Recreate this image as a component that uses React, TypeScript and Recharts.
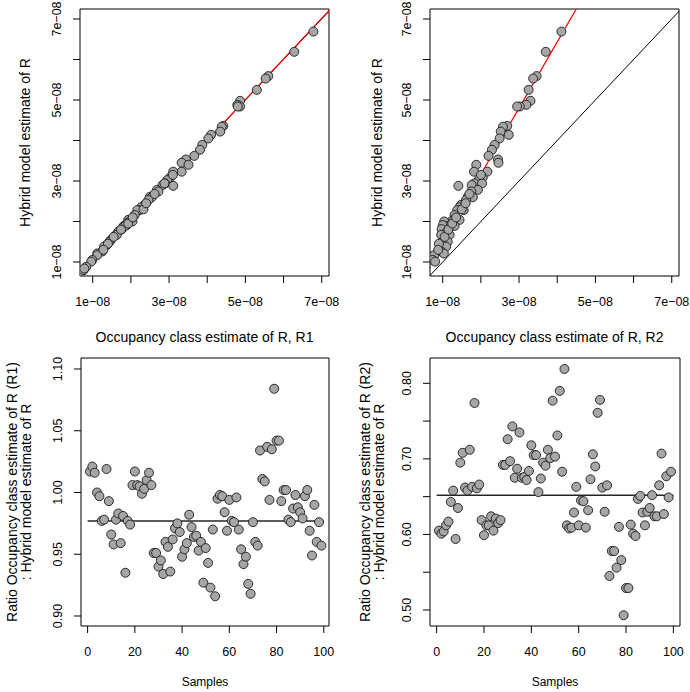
import React from "react";
import { ScatterChart, Scatter, XAxis, YAxis, ReferenceLine, ReferenceArea } from "recharts";

const FONT = "'Liberation Sans', Arial, Helvetica, sans-serif";

// estimates of R, in units of 1e-08 (same samples, three methods)
const hybrid = [6.69, 6.19, 5.59, 5.53, 5.25, 4.98, 4.88, 4.84, 4.84, 4.36, 4.34, 4.22, 4.14, 4.05, 3.89, 3.77, 3.62, 3.53, 3.45, 3.4, 3.23, 3.23, 3.09, 3.02, 2.94, 2.9, 2.94, 2.88, 2.78, 2.74, 2.61, 2.6, 2.53, 2.41, 2.35, 2.28, 2.28, 2.16, 2.04, 2.04, 2.0, 1.95, 2.0, 1.89, 1.91, 1.81, 1.87, 1.89, 1.75, 1.67, 1.67, 1.54, 1.5, 1.42, 1.38, 1.26, 1.21, 1.17, 1.05, 1.01, 0.76, 0.8, 0.88, 0.84, 1.62, 1.8, 1.95, 1.45, 2.1, 2.3, 2.45, 1.3, 2.68, 3.15];
const occR1 = [6.78, 6.28, 5.6, 5.53, 5.3, 4.86, 4.79, 4.86, 4.8, 4.42, 4.38, 4.34, 4.1, 4.03, 3.87, 3.81, 3.66, 3.44, 3.33, 3.51, 3.33, 3.11, 3.03, 2.95, 2.9, 2.83, 2.88, 3.11, 2.68, 2.72, 2.5, 2.55, 2.46, 2.35, 2.27, 2.22, 2.17, 2.1, 1.93, 2.02, 1.96, 1.9, 2.04, 1.82, 1.89, 1.76, 1.8, 1.85, 1.67, 1.61, 1.63, 1.47, 1.44, 1.37, 1.3, 1.25, 1.12, 1.12, 0.99, 0.96, 0.71, 0.76, 0.83, 0.78, 1.55, 1.74, 1.93, 1.4, 2.05, 2.33, 2.4, 1.28, 2.62, 3.1];
const occR2 = [4.11, 3.7, 3.46, 3.37, 3.25, 3.3, 3.19, 3.02, 2.95, 2.69, 2.58, 2.52, 2.73, 2.49, 2.36, 2.29, 2.2, 2.45, 2.46, 1.88, 1.82, 2.17, 2.05, 1.94, 1.83, 1.76, 2.03, 1.41, 1.92, 1.75, 1.66, 1.79, 1.61, 1.48, 1.44, 1.55, 1.38, 1.31, 1.29, 1.44, 1.22, 1.13, 1.04, 1.09, 1.0, 0.97, 1.2, 1.31, 1.11, 0.96, 1.18, 1.04, 1.13, 1.0, 1.09, 0.96, 1.03, 0.78, 0.74, 0.8, 0.48, 0.5, 0.55, 0.52, 1.05, 1.15, 1.25, 0.9, 1.35, 1.5, 1.6, 0.88, 1.7, 2.0];

// ratios per sample, in sample order
const ratioR1 = [1.017, 1.021, 1.016, 1.0, 0.997, 0.977, 0.978, 1.019, 0.993, 0.966, 0.958, 0.978, 0.983, 0.959, 0.981, 0.935, 0.977, 0.974, 1.006, 1.017, 1.006, 1.005, 0.999, 1.003, 1.01, 1.016, 1.006, 0.951, 0.951, 0.94, 0.945, 0.934, 0.96, 0.956, 0.936, 0.962, 0.971, 0.975, 0.968, 0.948, 0.954, 0.959, 0.982, 0.972, 0.964, 0.965, 0.953, 0.96, 0.927, 0.955, 0.943, 0.923, 0.97, 0.916, 0.995, 0.998, 0.997, 0.984, 0.969, 0.994, 0.977, 0.976, 0.996, 0.97, 0.954, 0.942, 0.948, 0.926, 0.918, 0.976, 0.96, 0.957, 1.034, 1.011, 1.009, 1.037, 0.994, 1.035, 1.084, 1.042, 1.042, 0.993, 1.002, 1.002, 0.978, 0.976, 0.987, 0.998, 0.988, 0.984, 0.979, 0.997, 1.002, 0.969, 0.949, 0.99, 0.96, 0.976, 0.957];
const ratioR2 = [0.605, 0.601, 0.604, 0.612, 0.617, 0.643, 0.658, 0.594, 0.635, 0.695, 0.708, 0.662, 0.658, 0.712, 0.663, 0.774, 0.661, 0.666, 0.619, 0.599, 0.612, 0.612, 0.624, 0.605, 0.621, 0.615, 0.619, 0.692, 0.692, 0.726, 0.697, 0.743, 0.675, 0.687, 0.735, 0.675, 0.676, 0.672, 0.684, 0.718, 0.705, 0.705, 0.656, 0.674, 0.695, 0.691, 0.712, 0.701, 0.777, 0.703, 0.731, 0.79, 0.683, 0.819, 0.612, 0.608, 0.609, 0.629, 0.663, 0.612, 0.645, 0.644, 0.609, 0.632, 0.673, 0.706, 0.69, 0.761, 0.778, 0.662, 0.63, 0.665, 0.545, 0.578, 0.578, 0.556, 0.61, 0.566, 0.493, 0.529, 0.529, 0.613, 0.601, 0.598, 0.647, 0.651, 0.629, 0.612, 0.63, 0.635, 0.652, 0.624, 0.624, 0.665, 0.707, 0.627, 0.677, 0.649, 0.683];

const MEAN_R1 = 0.977;
const MEAN_R2 = 0.652;
const FIT_R1 = { a: -0.01, b: 1.004 };
const FIT_R2 = { a: -0.103, b: 1.634 };

const e08Ticks = [1, 2, 3, 4, 5, 6, 7];
const sampleTicks = [0, 20, 40, 60, 80, 100];
const ratio1Ticks = [0.9, 0.95, 1.0, 1.05, 1.1];
const ratio2Ticks = [0.5, 0.55, 0.6, 0.65, 0.7, 0.75, 0.8];

const W = 345;
const H = 346;
const TICK_FS = 12.5;

const fmtE08 = (v: number) => (v % 2 === 1 ? `${v}e\u221208` : "");
const fmtInt = (v: number) => `${v}`;
const fmt2 = (v: number) => v.toFixed(2);
const fmt2Even = (v: number) => (Math.round(v * 100) % 10 === 0 ? v.toFixed(2) : "");

function Dot(props: any) {
  const { cx, cy } = props;
  if (cx == null || cy == null) return null;
  return <circle cx={cx} cy={cy} r={4.5} fill="#a6a6a6" stroke="#1a1a1a" strokeWidth={0.9} />;
}

type PanelProps = {
  left: number;
  top: number;
  margin: { top: number; right: number; bottom: number; left: number };
  yAxisWidth: number;
  xAxisHeight: number;
  xDomain: [number, number];
  yDomain: [number, number];
  xTicks: number[];
  yTicks: number[];
  xFmt: (v: number) => string;
  yFmt: (v: number) => string;
  data: { x: number; y: number }[];
  xTitle: string;
  xTitleOffset: number;
  xTitleSize: number;
  yTitle: { text: string; x: number }[];
  children?: React.ReactNode;
};

function Panel(p: PanelProps) {
  const plotLeft = p.margin.left + p.yAxisWidth;
  const plotRight = W - p.margin.right;
  const plotTop = p.margin.top;
  const plotBottom = H - p.margin.bottom - p.xAxisHeight;
  const midX = (plotLeft + plotRight) / 2;
  const midY = (plotTop + plotBottom) / 2;

  return (
    <div style={{ position: "absolute", left: p.left, top: p.top }}>
      <ScatterChart width={W} height={H} margin={p.margin}>
        <XAxis
          type="number"
          dataKey="x"
          domain={p.xDomain}
          ticks={p.xTicks}
          interval={0}
          allowDataOverflow
          axisLine={false}
          tickSize={7}
          tickMargin={19}
          tickLine={{ stroke: "#000" }}
          height={p.xAxisHeight}
          tick={(t: any) => (
            <text x={t.x} y={t.y} textAnchor="middle" dominantBaseline="central" fontSize={TICK_FS} fontFamily={FONT} fill="#000">
              {p.xFmt(t.payload.value)}
            </text>
          )}
          label={() => (
            <text x={midX} y={plotBottom + p.xTitleOffset} textAnchor="middle" dominantBaseline="central" fontSize={p.xTitleSize} fontFamily={FONT} fill="#000">
              {p.xTitle}
            </text>
          )}
        />
        <YAxis
          type="number"
          dataKey="y"
          domain={p.yDomain}
          ticks={p.yTicks}
          interval={0}
          allowDataOverflow
          axisLine={false}
          tickSize={7}
          tickMargin={16}
          tickLine={{ stroke: "#000" }}
          width={p.yAxisWidth}
          tick={(t: any) => (
            <text x={t.x} y={t.y} transform={`rotate(-90, ${t.x}, ${t.y})`} textAnchor="middle" dominantBaseline="central" fontSize={TICK_FS} fontFamily={FONT} fill="#000">
              {p.yFmt(t.payload.value)}
            </text>
          )}
          label={() => (
            <g>
              {p.yTitle.map((l) => (
                <text key={l.text} x={l.x} y={midY} transform={`rotate(-90, ${l.x}, ${midY})`} textAnchor="middle" dominantBaseline="central" fontSize={14} fontFamily={FONT} fill="#000">
                  {l.text}
                </text>
              ))}
            </g>
          )}
        />
        <Scatter data={p.data} shape={Dot} isAnimationActive={false} />
        {p.children}
        <ReferenceArea x1={p.xDomain[0]} x2={p.xDomain[1]} y1={p.yDomain[0]} y2={p.yDomain[1]} fill="none" fillOpacity={0} stroke="#000" strokeWidth={1} ifOverflow="visible" />
      </ScatterChart>
    </div>
  );
}

const E08_X: [number, number] = [0.667, 7.19];
const E08_Y: [number, number] = [0.654, 7.247];

export default function App() {
  const d1 = occR1.map((x, i) => ({ x, y: hybrid[i] }));
  const d2 = occR2.map((x, i) => ({ x, y: hybrid[i] }));
  const d3 = ratioR1.map((y, i) => ({ x: i + 1, y }));
  const d4 = ratioR2.map((y, i) => ({ x: i + 1, y }));

  return (
    <div style={{ position: "absolute", left: 0, top: 0, width: 690, height: 692, background: "#fff" }}>
      <Panel
        left={0}
        top={0}
        margin={{ top: 9, right: 16, bottom: 0, left: 0 }}
        yAxisWidth={80}
        xAxisHeight={70}
        xDomain={E08_X}
        yDomain={E08_Y}
        xTicks={e08Ticks}
        yTicks={e08Ticks}
        xFmt={fmtE08}
        yFmt={fmtE08}
        data={d1}
        xTitle="Occupancy class estimate of R, R1"
        xTitleOffset={61}
        xTitleSize={14}
        yTitle={[{ text: "Hybrid model estimate of R", x: 25 }]}
      >
        <ReferenceLine segment={[{ x: 0, y: 0 }, { x: 8, y: 8 }]} stroke="#000" strokeWidth={1} ifOverflow="hidden" />
        <ReferenceLine segment={[{ x: 0, y: FIT_R1.a }, { x: 8, y: FIT_R1.a + 8 * FIT_R1.b }]} stroke="#ff0000" strokeWidth={1.2} ifOverflow="hidden" />
      </Panel>
      <Panel
        left={345}
        top={0}
        margin={{ top: 9, right: 11, bottom: 0, left: 0 }}
        yAxisWidth={85}
        xAxisHeight={70}
        xDomain={E08_X}
        yDomain={E08_Y}
        xTicks={e08Ticks}
        yTicks={e08Ticks}
        xFmt={fmtE08}
        yFmt={fmtE08}
        data={d2}
        xTitle="Occupancy class estimate of R, R2"
        xTitleOffset={61}
        xTitleSize={14}
        yTitle={[{ text: "Hybrid model estimate of R", x: 32 }]}
      >
        <ReferenceLine segment={[{ x: 0, y: 0 }, { x: 8, y: 8 }]} stroke="#000" strokeWidth={1} ifOverflow="hidden" />
        <ReferenceLine segment={[{ x: 0, y: FIT_R2.a }, { x: 8, y: FIT_R2.a + 8 * FIT_R2.b }]} stroke="#ff0000" strokeWidth={1.2} ifOverflow="hidden" />
      </Panel>
      <Panel
        left={0}
        top={346}
        margin={{ top: 12, right: 16, bottom: 0, left: 0 }}
        yAxisWidth={81}
        xAxisHeight={66}
        xDomain={[-2.8, 102.2]}
        yDomain={[0.8919, 1.1089]}
        xTicks={sampleTicks}
        yTicks={ratio1Ticks}
        xFmt={fmtInt}
        yFmt={fmt2}
        data={d3}
        xTitle="Samples"
        xTitleOffset={56}
        xTitleSize={12}
        yTitle={[
          { text: "Ratio Occupancy class estimate of R (R1)", x: 12 },
          { text: ": Hybrid model estimate of R", x: 25.5 },
        ]}
      >
        <ReferenceLine segment={[{ x: 0, y: MEAN_R1 }, { x: 100, y: MEAN_R1 }]} stroke="#262626" strokeWidth={1.5} />
      </Panel>
      <Panel
        left={345}
        top={346}
        margin={{ top: 12, right: 10, bottom: 0, left: 0 }}
        yAxisWidth={85}
        xAxisHeight={66}
        xDomain={[-2.8, 102.8]}
        yDomain={[0.4788, 0.8335]}
        xTicks={sampleTicks}
        yTicks={ratio2Ticks}
        xFmt={fmtInt}
        yFmt={fmt2Even}
        data={d4}
        xTitle="Samples"
        xTitleOffset={56}
        xTitleSize={12}
        yTitle={[
          { text: "Ratio Occupancy class estimate of R (R2)", x: 20 },
          { text: ": Hybrid model estimate of R", x: 34 },
        ]}
      >
        <ReferenceLine segment={[{ x: 0, y: MEAN_R2 }, { x: 100, y: MEAN_R2 }]} stroke="#262626" strokeWidth={1.5} />
      </Panel>
    </div>
  );
}
